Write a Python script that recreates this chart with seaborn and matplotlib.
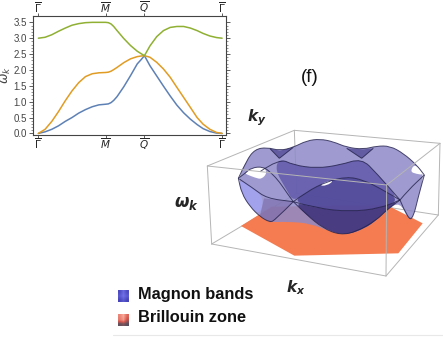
import numpy as np
import matplotlib
matplotlib.use('Agg')
import matplotlib.pyplot as plt
import seaborn as sns
from matplotlib.patches import Polygon, PathPatch
from matplotlib.path import Path

k = [0, .1, .2, .3, .4, .5, .6, .7, .8, .9, 1.0, 1.04, 1.08, 1.12, 1.17, 1.27, 1.37, 1.47, 1.53, 1.577,
     1.66, 1.76, 1.86, 1.96, 2.06, 2.16, 2.26, 2.36, 2.45, 2.55, 2.65, 2.732]
band_blue = [0, .05, .13, .24, .38, .50, .64, .75, .84, .90, .92, .93, .97, 1.04, 1.16, 1.47, 1.82, 2.19, 2.33, 2.45,
             2.13, 1.81, 1.49, 1.18, .89, .65, .45, .28, .15, .06, .01, 0]
band_orange = [0, .13, .38, .69, 1.03, 1.34, 1.6, 1.79, 1.88, 1.91, 1.92, 1.93, 1.96, 2.01, 2.08, 2.23, 2.35, 2.42, 2.44, 2.45,
               2.40, 2.24, 2.03, 1.77, 1.45, 1.135, .82, .50, .29, .13, .03, 0]
band_green = [3.0, 3.03, 3.11, 3.22, 3.32, 3.41, 3.46, 3.49, 3.5, 3.5, 3.5, 3.49, 3.45, 3.37, 3.24, 2.99, 2.77, 2.59, 2.51, 2.45,
              2.76, 3.05, 3.24, 3.34, 3.37, 3.37, 3.32, 3.24, 3.15, 3.07, 3.02, 3.0]
k_ticks = [0, 1.0, 1.577, 2.732]
k_labels = [r'$\overline{\Gamma}$', r'$\overline{M}$', r'$\overline{Q}$', r'$\overline{\Gamma}$']
w_ticks = [0, .5, 1, 1.5, 2, 2.5, 3, 3.5]

# outline of the 3d picture
box_back = [[(403, 121), (840, 160)], [(403, 121), (142, 228)], [(403, 121), (410, 310)],
            [(410, 310), (835, 375)], [(410, 310), (155, 462)]]
box_front = [[(142, 228), (680, 285)], [(680, 285), (840, 160)], [(142, 228), (155, 462)],
             [(155, 462), (678, 558)], [(678, 558), (835, 375)], [(840, 160), (835, 375)],
             [(680, 285), (678, 558)]]
hexagon = [(243, 408), (335, 350), (680, 345), (788, 400), (715, 490), (403, 497)]
sheet_outline = [(235, 265), (260, 210), (285, 178), (320, 172), (360, 182), (400, 172), (440, 152),
                 (480, 147), (520, 155), (560, 172), (610, 178), (650, 168), (690, 168), (730, 190),
                 (770, 225), (793, 255), (775, 320), (760, 382), (745, 390), (720, 335), (680, 360),
                 (650, 390), (615, 415), (560, 435), (510, 425), (450, 400), (380, 395), (330, 397),
                 (300, 380), (270, 350), (245, 310)]
sheet_light = [(235, 265), (280, 295), (312, 325), (300, 375), (270, 350), (245, 310)]
sheet_mauve = [(312, 325), (400, 335), (345, 390), (330, 397), (300, 378)]
sheet_mid = [(358, 205), (400, 225), (470, 235), (540, 225), (605, 205), (650, 250), (720, 330),
             (660, 295), (610, 270), (560, 260), (500, 275), (440, 305), (400, 335), (380, 300), (345, 240)]
sheet_low = [(400, 335), (470, 355), (570, 365), (660, 355), (720, 330), (680, 360), (650, 390),
             (615, 415), (560, 435), (510, 425), (450, 385)]
sheet_band = [(400, 335), (440, 305), (500, 275), (560, 260), (610, 270), (660, 295), (720, 330),
              (660, 355), (570, 365), (470, 355)]
wedge_left = [(330, 176), (358, 205), (400, 172), (360, 182)]
wedge_right = [(560, 175), (605, 205), (640, 175), (610, 178)]
hole_left = [(255, 250), (275, 233), (310, 230), (322, 248), (305, 268), (285, 263), (262, 254)]
hole_right = [(750, 245), (765, 220), (793, 255), (770, 252)]
hole_mid = [(478, 287), (500, 274), (522, 272), (500, 287)]
dark_lines = [
    [(235, 265), (280, 295), (320, 325), (400, 335)],
    [(235, 265), (255, 250), (275, 233), (310, 230), (335, 250), (358, 275), (385, 315), (400, 335)],
    [(400, 335), (440, 375), (490, 415), (540, 435), (590, 425), (650, 390), (680, 360), (720, 330)],
    [(400, 335), (440, 305), (500, 275), (560, 260), (610, 270), (660, 295), (720, 330)],
    [(400, 335), (470, 355), (570, 365), (660, 355), (720, 330)],
    [(235, 265), (260, 210), (285, 178), (320, 172), (360, 182), (400, 172), (440, 152), (480, 147),
     (520, 155), (560, 172), (610, 178), (650, 168), (690, 168), (730, 190), (770, 225), (793, 255)],
    [(300, 245), (358, 205), (400, 225), (470, 235), (540, 225), (605, 205), (650, 250), (720, 330)],
    [(358, 205), (400, 172)], [(605, 205), (640, 175)], [(605, 205), (560, 175)], [(358, 205), (330, 176)],
    [(400, 335), (345, 390), (330, 397), (300, 380), (270, 350), (245, 310), (235, 265)],
    [(720, 330), (745, 300), (793, 255)],
    [(720, 330), (745, 390), (760, 382), (775, 320), (793, 255)],
]


# quadratic bezier path that uses the traced points as control points
def curve(pts, closed=False):
    pts = [np.array(p, float) for p in pts]
    if closed:
        start = (pts[-1] + pts[0]) / 2
        verts, codes = [start], [Path.MOVETO]
        for i, p in enumerate(pts):
            verts += [p, (p + pts[(i + 1) % len(pts)]) / 2]
            codes += [Path.CURVE3, Path.CURVE3]
        return Path(verts, codes)
    verts, codes = [pts[0]], [Path.MOVETO]
    for i in range(1, len(pts) - 1):
        verts += [pts[i], (pts[i] + pts[i + 1]) / 2]
        codes += [Path.CURVE3, Path.CURVE3]
    verts.append(pts[-1])
    codes.append(Path.LINETO)
    return Path(verts, codes)


sns.set_style('white')
plt.rcParams['mathtext.fontset'] = 'dejavusans'
fig = plt.figure(figsize=(4.43, 3.37), dpi=100)

# band plot
ax = fig.add_axes([33 / 443, 1 - 135 / 337, 193 / 443, 119 / 337])
sns.lineplot(x=k, y=band_blue, color='#5E81B5', lw=1.1, ax=ax)
sns.lineplot(x=k, y=band_orange, color='#E19C24', lw=1.1, ax=ax)
sns.lineplot(x=k, y=band_green, color='#8FB032', lw=1.1, ax=ax)
ax.set_xlim(-0.08, 2.79)
ax.set_ylim(-0.05, 3.7)
ax.set_xticks(k_ticks)
ax.set_xticklabels(k_labels)
ax.set_yticks(w_ticks)
ax.set_yticklabels(['%.1f' % v for v in w_ticks], fontsize=7, color='#444444', family='Liberation Sans')
ax.set_yticks(np.arange(0, 3.6, .1), minor=True)
ax.tick_params(axis='y', which='major', length=3, width=.6, color='#444444', pad=1.5, right=True, left=True)
ax.tick_params(axis='y', which='minor', length=1.5, width=.4, color='#444444', right=True, left=True)
ax.tick_params(axis='x', which='major', length=2, width=.6, color='#444444', pad=-1, labelsize=7.5,
               top=True, bottom=True, labeltop=True, labelbottom=True)
ax.set_ylabel(r'$\omega_k$', fontsize=9, color='#444444')
ax.yaxis.set_label_coords(-0.105, .5)
for s in ax.spines.values():
    s.set_linewidth(.8)
    s.set_color('#444444')

# 3d picture, same units as the traced outline
ov = fig.add_axes([0, 0, 1, 1], facecolor='none')
ov.set_axis_off()

for seg in box_back:
    ov.plot(*zip(*seg), color='#b5b5b5', lw=.7, zorder=1)
ov.add_patch(Polygon(hexagon, fc='#F47C50', ec='none', zorder=2))
ov.add_patch(PathPatch(curve(sheet_outline, True), fc='#8E8AC8', ec='none', alpha=.85, zorder=3))
ov.add_patch(PathPatch(curve(sheet_light, True), fc='#A2A2F0', ec='none', alpha=.9, zorder=4))
ov.add_patch(Polygon(sheet_mauve, fc='#7A6AA8', ec='none', alpha=.6, zorder=4))
ov.add_patch(PathPatch(curve(sheet_mid, True), fc='#5E56A8', ec='none', alpha=.8, zorder=4))
ov.add_patch(PathPatch(curve(sheet_band, True), fc='#4A4296', ec='none', alpha=.85, zorder=5))
ov.add_patch(PathPatch(curve(sheet_low, True), fc='#3A2F78', ec='none', alpha=.85, zorder=5))
for wedge in [wedge_left, wedge_right]:
    ov.add_patch(Polygon(wedge, fc='#4A4290', ec='none', alpha=.7, zorder=5))
for hole in [hole_left, hole_right, hole_mid]:
    ov.add_patch(PathPatch(curve(hole, True), fc='white', ec='none', zorder=6))
for seg in dark_lines:
    ov.add_patch(PathPatch(curve(seg), fc='none', ec='#22204a', lw=.7, alpha=.8, zorder=7))
for seg in box_front:
    ov.plot(*zip(*seg), color='#b5b5b5', lw=.7, zorder=8)

# legend swatches
ov.imshow([[.2, .6, .2], [.4, .7, .4], [.1, .4, .1]], extent=(-126, -93, 636, 600),
          cmap=sns.blend_palette(['#4644B8', '#7270E8'], as_cmap=True), interpolation='bilinear',
          aspect='auto', zorder=3)
ov.imshow([[.8, 1, .6], [.7, .9, .4], [.1, .2, .05]], extent=(-126, -93, 708, 672),
          cmap=sns.blend_palette(['#55505F', '#D85A50', '#F8A898'], as_cmap=True), interpolation='bilinear',
          aspect='auto', zorder=3)
ov.plot([-140, 849], [735, 735], color='#e8e8e8', lw=.8, zorder=1)
ov.set_xlim(-480, 849)
ov.set_ylim(741, -270)


def label(x, y, txt, **kw):
    fig.text(x / 443, 1 - y / 337, txt, va='center', ha='left', **kw)


label(301, 77, '(f)', fontsize=13.5, family='Liberation Sans', color='#111111')
label(247, 118, r'$\mathbfit{k_y}$', fontsize=11)
label(174, 203, r'$\mathbfit{\omega_k}$', fontsize=12)
label(286, 288, r'$\mathbfit{k_x}$', fontsize=11)
label(138, 294, 'Magnon bands', fontsize=11.8, family='Liberation Sans', weight='bold', color='#111111')
label(138, 318, 'Brillouin zone', fontsize=11.8, family='Liberation Sans', weight='bold', color='#111111')

fig.savefig('out.png', dpi=100)
